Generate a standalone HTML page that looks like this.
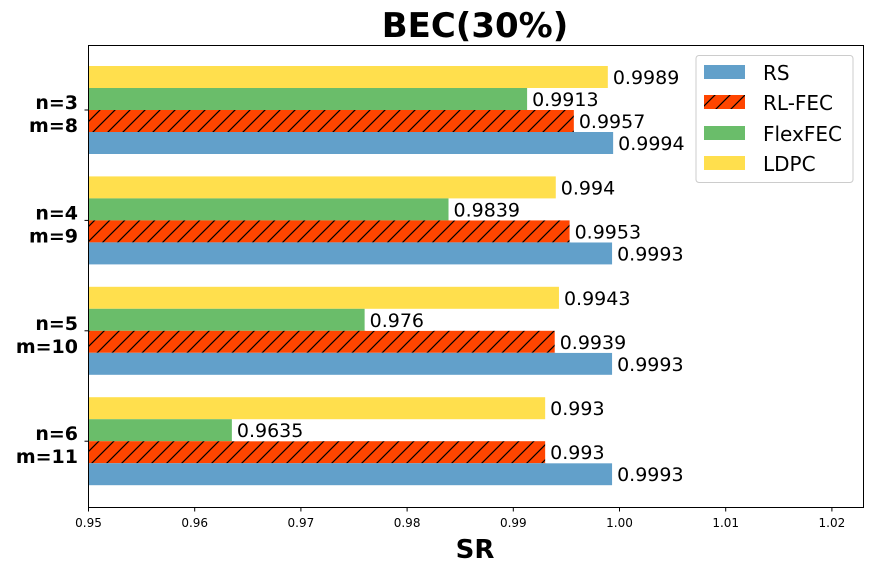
<!DOCTYPE html>
<html><head><meta charset="utf-8"><style>
body{margin:0;background:#fff;}
svg text{font-family:"DejaVu Sans","Liberation Sans",sans-serif;}
</style></head><body>
<svg id="chart" width="872" height="574" xmlns="http://www.w3.org/2000/svg">
<defs>
<pattern id="hatch" patternUnits="userSpaceOnUse" width="15" height="15">
<rect width="15" height="15" fill="#ff4500"/>
<path d="M-1,16 L16,-1 M-8,8 L8,-8 M7,23 L23,7" stroke="#000" stroke-width="1.2"/>
</pattern>
</defs>
<text x="475" y="37" text-anchor="middle" font-size="34" font-weight="bold">BEC(30%)</text>
<g id="bars"></g>
<rect x="88.5" y="45.5" width="775" height="462" fill="none" stroke="#000" stroke-width="1"/>
<g id="axes"></g>
<text x="475" y="558" text-anchor="middle" font-size="26" font-weight="bold">SR</text>
<g>
<rect x="696" y="55.5" width="157" height="127" rx="3" fill="#fff" stroke="#ccc"/>
<rect x="704" y="65" width="41" height="14" fill="#62a0ca"/>
<text x="763" y="80" font-size="20">RS</text>
<rect x="704" y="95" width="41" height="14" fill="url(#hatch)"/>
<text x="763" y="110" font-size="20">RL-FEC</text>
<rect x="704" y="126" width="41" height="14" fill="#6abd6a"/>
<text x="763" y="141" font-size="20">FlexFEC</text>
<rect x="704" y="156" width="41" height="14" fill="#ffdf4d"/>
<text x="763" y="171" font-size="20">LDPC</text>
</g>
</svg>
<script>
const categories=[["n=3","m=8"],["n=4","m=9"],["n=5","m=10"],["n=6","m=11"]];
const seriesNames=["LDPC","FlexFEC","RL-FEC","RS"];
const ldpc=[0.9989,0.994,0.9943,0.993];
const flexfec=[0.9913,0.9839,0.976,0.9635];
const rlfec=[0.9957,0.9953,0.9939,0.993];
const rs=[0.9994,0.9993,0.9993,0.9993];
const xTicks=["0.95","0.96","0.97","0.98","0.99","1.00","1.01","1.02"];
const NS="http://www.w3.org/2000/svg";
const x0=88.5,xScale=10620,xMin=0.95;
function xPos(v){return x0+(v-xMin)*xScale;}
function groupCenter(i){return 110+i*110.4;}
const barH=22;
const series=[ldpc,flexfec,rlfec,rs];
const fills=["#ffdf4d","#6abd6a","url(#hatch)","#62a0ca"];
const bars=document.getElementById('bars');
const axes=document.getElementById('axes');
function mk(tag,attrs,parent){const e=document.createElementNS(NS,tag);for(const k in attrs)e.setAttribute(k,attrs[k]);parent.appendChild(e);return e;}
categories.forEach((c,i)=>{
  series.forEach((s,j)=>{
    const y=groupCenter(i)-2*barH+j*barH;
    const r=mk('rect',{x:x0,y:y,width:xPos(s[i])-x0,height:barH,fill:fills[j]},bars);
    
    
  });
  series.forEach((s,j)=>{
    const y=groupCenter(i)-2*barH+j*barH;
    const txt=String(s[i]);
    const bg=mk('rect',{x:xPos(s[i])+1,y:y+1,width:txt.length*12+8,height:barH-1,fill:'#fff'},bars);
    
    
    const t=mk('text',{x:xPos(s[i])+5,y:y+barH/2+7,'font-size':19},bars);
    t.textContent=txt;
    
    
  });
  const cy=groupCenter(i);
  const tk=mk('line',{x1:x0-4,x2:x0,y1:cy,y2:cy,stroke:'#000'},axes);
  
  
  const l=mk('text',{x:78,y:cy-1,'text-anchor':'end','font-size':19,'font-weight':'bold'},axes);
  
  
  mk('tspan',{x:78,dy:0},l).textContent=c[0];
  mk('tspan',{x:78,dy:23},l).textContent=c[1];
});
xTicks.forEach(t=>{
  const x=xPos(parseFloat(t));
  const tk=mk('line',{x1:x,x2:x,y1:507.5,y2:511.5,stroke:'#000'},axes);
  
  
  const l=mk('text',{x:x,y:527,'text-anchor':'middle','font-size':12},axes);
  l.textContent=t;
  
  
});
</script>
</body></html>
